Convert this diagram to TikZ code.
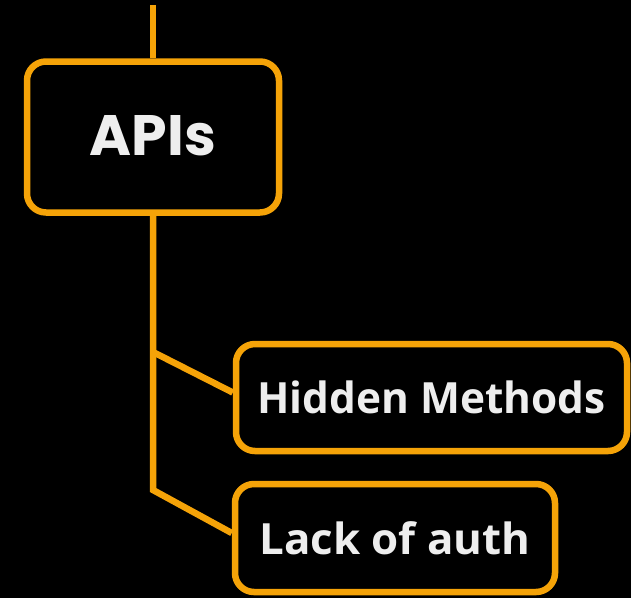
\documentclass[tikz,border=0pt]{standalone}
\usepackage{fontspec}
\newfontfamily\apifont{Poppins}
\newfontfamily\labfont{Open Sans}
\definecolor{orng}{RGB}{245,163,8}
\definecolor{txt}{RGB}{238,238,238}
\tikzset{
  box/.style={draw=orng, line width=6.5pt, rounded corners=19pt, fill=black, text=txt, inner sep=0pt},
  lab/.style={font=\labfont\bfseries\fontsize{43}{46}\selectfont},
  conn/.style={draw=orng, line width=6.5pt},
}
\begin{document}
\begin{tikzpicture}[x=1pt,y=-1pt]
\fill[black] (0,0) rectangle (631,598);
\useasboundingbox (0,0) rectangle (631,598);
\node[box, minimum width=252pt, minimum height=151pt, font=\apifont\bfseries\fontsize{57}{58}\selectfont] (apis) at (153,137) {\raisebox{3pt}{APIs}};
\node[box, lab, minimum width=391pt, minimum height=107pt] (hm) at (431.5,397.5) {\scalebox{0.985}[1]{Hidden Methods}};
\node[box, lab, minimum width=320pt, minimum height=108pt] (la) at (395,538) {\scalebox{1.02}[1]{Lack of auth}};
\coordinate (top) at (153,5);
\coordinate (j1) at (153,352);
\coordinate (j2) at (153,490);
\draw[conn] (top) -- (apis.north);
\draw[conn] (apis.south) -- (j2) -- ([yshift=5pt]la.west);
\draw[conn] (j1) -- ([yshift=5pt]hm.west);
\end{tikzpicture}
\end{document}
